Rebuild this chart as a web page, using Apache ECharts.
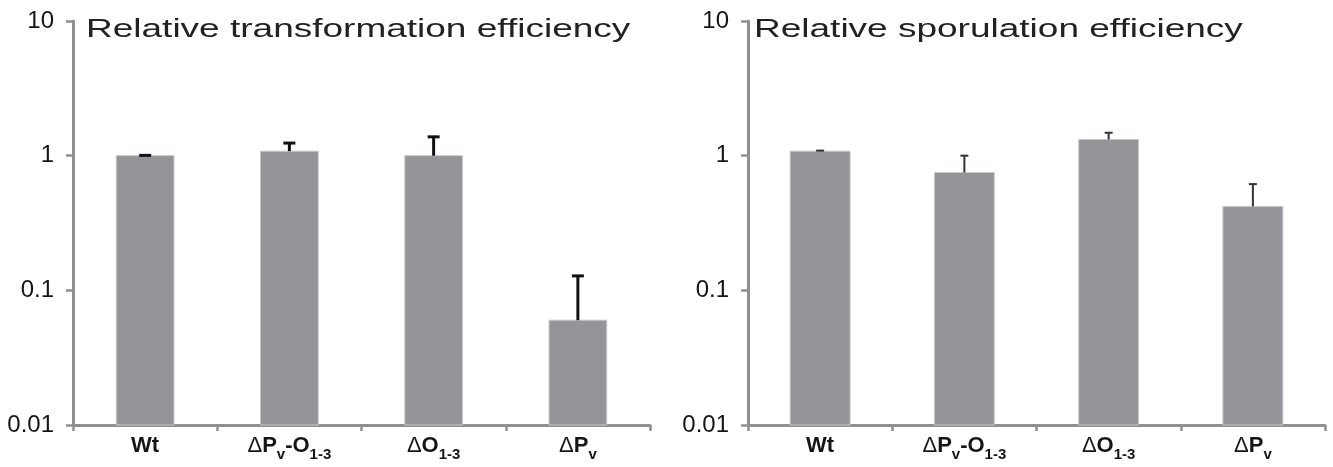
<!DOCTYPE html>
<html>
<head>
<meta charset="utf-8">
<script src="https://cdn.jsdelivr.net/npm/echarts@6/dist/echarts.min.js"></script>
<style>
html,body{margin:0;padding:0;background:#fff;}
#c{width:1333px;height:467px;}
</style>
</head>
<body>
<div id="c"></div>
<script>
// ---- data ----
const categories = ['Wt', 'ΔPv-O1-3', 'ΔO1-3', 'ΔPv'];
const transformation = [1.0, 1.08, 1.0, 0.06];
const transformationErrTop = [1.005, 1.24, 1.38, 0.128];
const sporulation = [1.08, 0.75, 1.32, 0.42];
const sporulationErrTop = [1.09, 1.0, 1.48, 0.615];
const yTickLabels = ['0.01', '0.1', '1', '10'];
const titles = ['Relative transformation efficiency', 'Relative sporulation efficiency'];

const labelRich = {
  'Wt': '{b|Wt}',
  'ΔPv-O1-3': '{d|Δ}{b|P}{s|v}{b|-O}{s|1-3}',
  'ΔO1-3': '{d|Δ}{b|O}{s|1-3}',
  'ΔPv': '{d|Δ}{b|P}{s|v}'
};

const FONT = '"Liberation Sans", Arial, sans-serif';
const AXIS_COLOR = '#8f9092';
const BAR_COLOR = '#939598';
const TEXT = '#151515';
const Y_MIN = 0.01, Y_MAX = 10;

const chart = echarts.init(document.getElementById('c'));

function xAxis(gi) {
  return {
    type: 'category', gridIndex: gi, data: categories,
    axisLine: { lineStyle: { color: AXIS_COLOR, width: 3 } },
    axisTick: { show: true, length: 6, lineStyle: { color: AXIS_COLOR, width: 2.5 } },
    axisLabel: {
      interval: 0, margin: 8, color: TEXT,
      formatter: v => labelRich[v],
      rich: {
        b: { fontFamily: FONT, fontSize: 22, fontWeight: 'bold', color: TEXT, lineHeight: 26 },
        d: { fontFamily: FONT, fontSize: 22, fontWeight: 'normal', color: TEXT, lineHeight: 26 },
        s: { fontFamily: FONT, fontSize: 15, fontWeight: 'bold', color: TEXT, padding: [17, 0, 0, 0], lineHeight: 26 }
      }
    }
  };
}
function yAxis(gi) {
  return {
    type: 'log', logBase: 10, min: Y_MIN, max: Y_MAX, gridIndex: gi,
    axisLine: { show: true, lineStyle: { color: AXIS_COLOR, width: 3 } },
    axisTick: { show: true, length: 7, lineStyle: { color: AXIS_COLOR, width: 2.5 } },
    splitLine: { show: false },
    axisLabel: {
      margin: 19, color: TEXT, fontFamily: FONT, fontSize: 24,
      formatter: v => yTickLabels[Math.round(Math.log10(v)) + 2]
    }
  };
}
function barSeries(xi, vals, frac) {
  return {
    type: 'custom', xAxisIndex: xi, yAxisIndex: xi, z: 2,
    data: vals.map((v, i) => [i, v]),
    encode: { x: 0, y: 1 },
    renderItem: (params, api) => {
      const top = api.coord([api.value(0), api.value(1)]);
      const base = api.coord([api.value(0), Y_MIN]);
      const w = api.size([1, 0])[0] * frac;
      return {
        type: 'rect',
        shape: { x: top[0] - w / 2, y: top[1], width: w, height: base[1] - top[1] },
        style: { fill: BAR_COLOR, stroke: '#c6c7c9', lineWidth: 1 }
      };
    }
  };
}
function errSeries(xi, vals, tops, width, cap, color) {
  return {
    type: 'custom', xAxisIndex: xi, yAxisIndex: xi, z: 5,
    data: vals.map((v, i) => [i, v, tops[i]]),
    encode: { x: 0, y: [1, 2] },
    renderItem: (params, api) => {
      const b = api.coord([api.value(0), api.value(1)]);
      const t = api.coord([api.value(0), api.value(2)]);
      return {
        type: 'group',
        children: [
          { type: 'line', shape: { x1: b[0], y1: b[1], x2: t[0], y2: t[1] }, style: { stroke: color, lineWidth: width } },
          { type: 'line', shape: { x1: t[0] - cap, y1: t[1], x2: t[0] + cap, y2: t[1] }, style: { stroke: color, lineWidth: width } }
        ]
      };
    }
  };
}
function titleText(txt, x) {
  return {
    type: 'text', x: x, y: 30, scaleX: 1.48, z: 10,
    style: { text: txt, x: 0, y: 0, fill: '#222', font: '25px ' + FONT, textVerticalAlign: 'middle', textAlign: 'left' }
  };
}

chart.setOption({
  animation: false,
  graphic: [titleText(titles[0], 86), titleText(titles[1], 754)],
  grid: [
    { left: 73, right: 683, top: 21, bottom: 42 },
    { left: 748, right: 8, top: 21, bottom: 42 }
  ],
  xAxis: [xAxis(0), xAxis(1)],
  yAxis: [yAxis(0), yAxis(1)],
  series: [
    barSeries(0, transformation, 0.40),
    barSeries(1, sporulation, 0.415),
    errSeries(0, transformation, transformationErrTop, 3, 6, '#111'),
    errSeries(1, sporulation, sporulationErrTop, 2, 4, '#333')
  ]
});
</script>
</body>
</html>
